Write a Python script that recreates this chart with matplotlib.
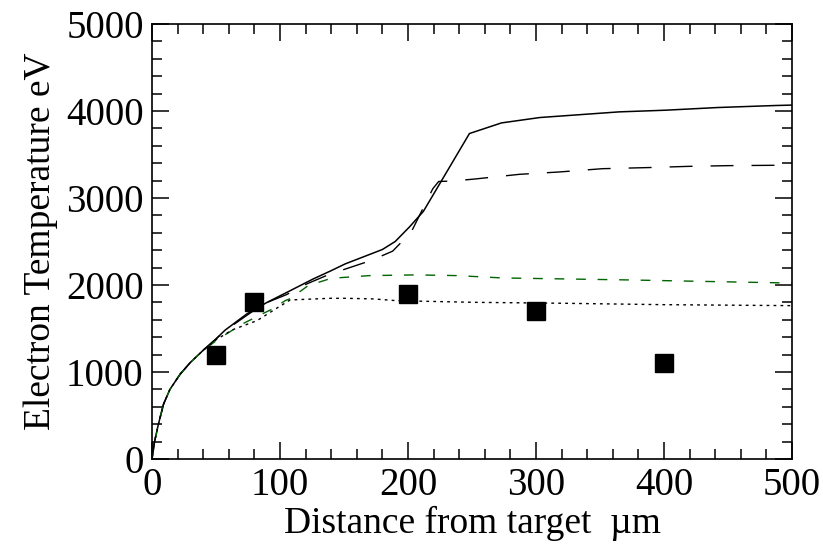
import matplotlib
matplotlib.use("Agg")
import matplotlib.pyplot as plt
from matplotlib.ticker import MultipleLocator

plt.rcParams['font.family'] = ['Liberation Serif', 'DejaVu Serif']

# Solid line
x_solid = [0, 0.5, 2, 5, 9, 14, 22, 30, 40, 50, 57, 74, 90, 108, 126, 139, 151,
           180, 190, 201, 212, 248, 273, 303, 365, 401, 442, 487, 500]
y_solid = [0, 50, 200, 400, 630, 800, 975, 1110, 1250, 1380, 1480, 1667, 1801, 1935, 2070, 2158, 2243,
           2408, 2500, 2665, 2846, 3741, 3863, 3925, 3990, 4009, 4040, 4063, 4068]

# Long-dashed line
x_ldash = [0, 0.5, 2, 5, 9, 14, 22, 30, 40, 50, 57, 74, 87, 105, 121, 137.5, 153, 171,
           188, 202.5, 211.6, 219.4, 224, 235, 252, 287, 318, 352, 386, 420, 451, 487, 500]
y_ldash = [0, 50, 200, 400, 630, 800, 975, 1110, 1250, 1380, 1475, 1650, 1782, 1889, 2013, 2116, 2193, 2281,
           2389, 2608, 2877, 3107, 3190, 3195, 3218, 3272, 3299, 3337, 3349, 3364, 3372, 3376, 3385]

# Green dashed line
x_green = [0, 0.5, 2, 5, 9, 14, 22, 30, 40, 53, 71, 87, 95, 104, 108, 122, 140, 170,
           206, 238, 274, 321, 373, 425, 494, 500]
y_green = [0, 50, 200, 400, 630, 800, 975, 1110, 1250, 1390, 1555, 1674, 1730, 1820, 1843, 1993, 2077, 2108,
           2116, 2108, 2081, 2070, 2058, 2043, 2024, 2020]

# Dotted line
x_dot = [0, 0.5, 2, 5, 9, 14, 22, 30, 40, 50, 63, 82, 98.5, 108, 139, 152, 173,
         191, 251, 321, 399, 498, 500]
y_dot = [0, 50, 200, 400, 630, 800, 975, 1110, 1250, 1370, 1486, 1590, 1743, 1828, 1847, 1847, 1840,
         1820, 1801, 1790, 1774, 1763, 1762]

# Experimental points
x_exp = [50, 80, 200, 300, 400]
y_exp = [1200, 1800, 1900, 1700, 1100]

fig = plt.figure(figsize=(8.23, 5.48), dpi=100)
ax = fig.add_axes([152/823, 1 - 459/548, (792-152)/823, (459-24)/548])

ax.plot(x_solid, y_solid, color='black', lw=1.1, ls='-')
l2, = ax.plot(x_ldash, y_ldash, color='black', lw=1.0)
l2.set_dashes([16.5, 13])
l3, = ax.plot(x_green, y_green, color='#006400', lw=1.0)
l3.set_dashes([7, 8.5])
l4, = ax.plot(x_dot, y_dot, color='black', lw=1.0)
l4.set_dashes([2, 3])
ax.plot(x_exp, y_exp, ls='none', marker='s', color='black', markersize=12.5)

ax.set_xlim(0, 500)
ax.set_ylim(0, 5000)
ax.xaxis.set_major_locator(MultipleLocator(100))
ax.xaxis.set_minor_locator(MultipleLocator(20))
ax.yaxis.set_major_locator(MultipleLocator(1000))
ax.yaxis.set_minor_locator(MultipleLocator(200))
ax.tick_params(which='both', direction='in', top=True, right=True, width=1.1, labelsize=28)
ax.tick_params(which='major', length=12.5, pad=6)
ax.tick_params(which='minor', length=7)
for s in ax.spines.values():
    s.set_linewidth(1.2)

ax.set_xlabel('Distance from target  \u00b5m', fontsize=27, labelpad=1)
ax.set_ylabel('Electron Temperature eV', fontsize=27, labelpad=6)

fig.savefig('out.png', dpi=100)
